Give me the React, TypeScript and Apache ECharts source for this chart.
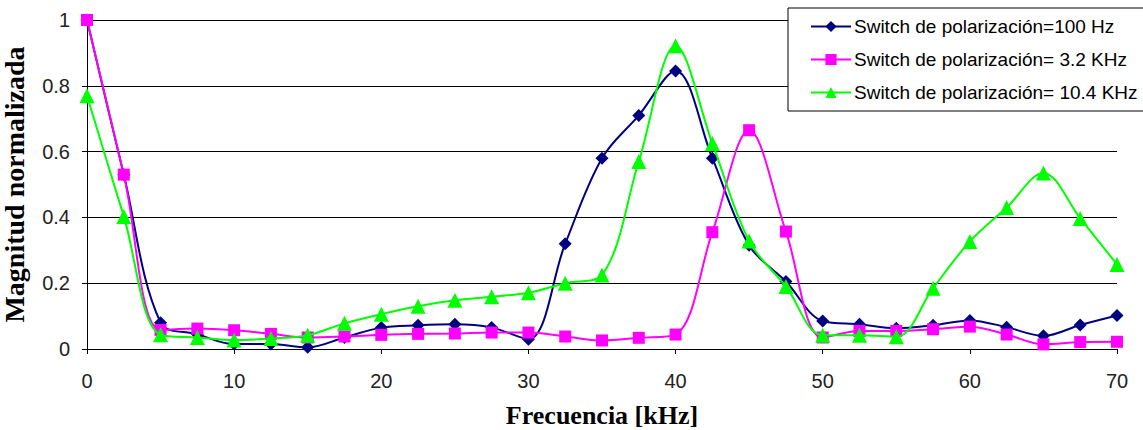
import React, { useEffect, useRef } from "react";
import * as echarts from "echarts";

const freqs = [0, 2.5, 5, 7.5, 10, 12.5, 15, 17.5, 20, 22.5, 25, 27.5, 30, 32.5, 35, 37.5, 40, 42.5, 45, 47.5, 50, 52.5, 55, 57.5, 60, 62.5, 65, 67.5, 70];

const seriesNames = [
  "Switch de polarización=100 Hz",
  "Switch de polarización= 3.2 KHz",
  "Switch de polarización= 10.4 KHz",
];

const sw100Hz = [1.0, 0.53, 0.08, 0.045, 0.015, 0.015, 0.005, 0.035, 0.065, 0.072, 0.075, 0.065, 0.03, 0.32, 0.58, 0.71, 0.845, 0.58, 0.315, 0.205, 0.085, 0.075, 0.063, 0.072, 0.087, 0.066, 0.04, 0.073, 0.102];
const sw3k2Hz = [1.0, 0.53, 0.058, 0.062, 0.057, 0.046, 0.035, 0.038, 0.043, 0.046, 0.047, 0.05, 0.05, 0.038, 0.026, 0.034, 0.044, 0.355, 0.665, 0.357, 0.035, 0.055, 0.055, 0.06, 0.068, 0.044, 0.014, 0.021, 0.022];
const sw10k4Hz = [0.77, 0.403, 0.043, 0.035, 0.027, 0.032, 0.042, 0.078, 0.106, 0.13, 0.148, 0.159, 0.171, 0.2, 0.225, 0.57, 0.922, 0.625, 0.328, 0.19, 0.042, 0.042, 0.037, 0.185, 0.327, 0.43, 0.535, 0.397, 0.257];

const xTicks = { min: 0, max: 70, interval: 10 };
const yTicks = { min: 0, max: 1, interval: 0.2 };

const colors = ["#000080", "#FF00FF", "#00FF00"];
const symbols = ["diamond", "rect", "triangle"];
const symbolSizes = [13, 12, 15];

export default function App() {
  const ref = useRef<HTMLDivElement>(null);
  useEffect(() => {
    if (!ref.current) return;
    const chart = echarts.init(ref.current, null, { renderer: "svg" });
    const all = [sw100Hz, sw3k2Hz, sw10k4Hz];
    chart.setOption({
      animation: false,
      backgroundColor: "#ffffff",
      grid: { left: 87, right: 26, top: 20, bottom: 81, containLabel: false, outerBoundsMode: "none" },
      legend: {
        orient: "vertical",
        left: 788,
        top: 8,
        padding: [9, 6, 9, 22],
        itemWidth: 40,
        itemHeight: 14,
        itemGap: 14,
        borderColor: "#000",
        borderWidth: 1,
        backgroundColor: "#fff",
        textStyle: { fontFamily: "Liberation Sans, Arial", fontSize: 19, color: "#000", padding: [0, 0, 0, -2] },
        data: seriesNames,
      },
      xAxis: {
        type: "value",
        min: xTicks.min,
        max: xTicks.max,
        interval: xTicks.interval,
        name: "Frecuencia [kHz]",
        nameLocation: "middle",
        nameGap: 53,
        nameTextStyle: { fontFamily: "Liberation Serif, Times New Roman", fontWeight: "bold", fontSize: 26, color: "#000" },
        axisLine: { lineStyle: { color: "#000", width: 1 } },
        axisTick: { show: true, length: 5, lineStyle: { color: "#000" } },
        axisLabel: { fontFamily: "Liberation Sans, Arial", fontSize: 20, color: "#222", margin: 22 },
        splitLine: { show: false },
      },
      yAxis: {
        type: "value",
        min: yTicks.min,
        max: yTicks.max,
        interval: yTicks.interval,
        name: "Magnitud normalizada",
        nameLocation: "middle",
        nameGap: 58,
        nameTextStyle: { fontFamily: "Liberation Serif, Times New Roman", fontWeight: "bold", fontSize: 28, color: "#000", lineHeight: 30 },
        axisLine: { show: true, lineStyle: { color: "#000", width: 1 } },
        axisTick: { show: true, length: 5, lineStyle: { color: "#000" } },
        axisLabel: { fontFamily: "Liberation Sans, Arial", fontSize: 20, color: "#222", margin: 17 },
        splitLine: { show: true, lineStyle: { color: "#000", width: 1 } },
      },
      series: all.map((vals, i) => ({
        name: seriesNames[i],
        type: "line",
        smooth: 0.35,
        data: freqs.map((f, j) => [f, vals[j]]),
        symbol: symbols[i],
        symbolSize: symbolSizes[i],
        showAllSymbol: true,
        lineStyle: { color: colors[i], width: 2 },
        itemStyle: { color: colors[i] },
        z: 2 + i,
      })),
    });
    return () => chart.dispose();
  }, []);
  return <div ref={ref} style={{ position: "fixed", left: 0, top: 0, width: 1143, height: 430 }} />;
}
